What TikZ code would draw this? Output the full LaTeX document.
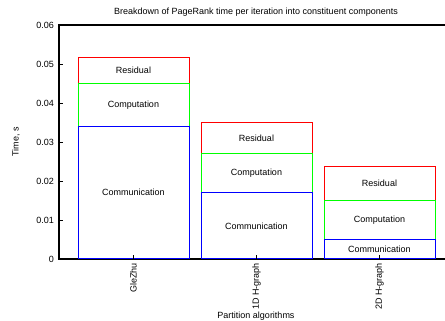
\documentclass[tikz,border=0pt]{standalone}
\usepackage{fontspec}
\setmainfont{Liberation Sans}

\definecolor{commcol}{RGB}{0,0,255}
\definecolor{compcol}{RGB}{0,255,0}
\definecolor{rescol}{RGB}{255,0,0}

\tikzset{
  plottext/.style={font=\fontsize{9}{10}\selectfont, inner sep=0pt},
  segbox/.style={line width=1pt},
}

\begin{document}
\begin{tikzpicture}[x=1pt,y=1pt]
    \useasboundingbox (0,0) rectangle (445,321);

    % title and axis names
    \node[plottext] (title) at (256,309) {Breakdown of PageRank time per iteration into constituent components};
    \node[plottext, rotate=90] (ylabel) at (16,179) {Time, s};
    \node[plottext] (xlabel) at (256,5) {Partition algorithms};

    \begin{scope}[shift={(59,62)}, y=3900pt]
        % draw the axes
        \draw[line width=1.2pt] (386,0.06) -- (0,0.06) -- (0,0) -- (386,0);

        % y ticks
        \foreach \v/\t in {0/0, 0.01/0.01, 0.02/0.02, 0.03/0.03, 0.04/0.04, 0.05/0.05, 0.06/0.06}{
            \draw[line width=0.8pt] (0,\v) -- (4,\v);
            \node[plottext, anchor=east] (ytick\t) at (-5,\v) {\t};
        }

        % the bars: red first, then green, then blue on top
        \foreach \i/\l/\cm/\cp/\rs/\name in {1/19/0.034/0.045/0.0517/GleZhu,
                                             2/142/0.017/0.027/0.035/1D H-graph,
                                             3/265/0.0049/0.015/0.0238/2D H-graph}{
            \draw[segbox, rescol] (\l,\cp) rectangle (\l+111,\rs);
            \draw[segbox, compcol] (\l,\cm) rectangle (\l+111,\cp);
            \draw[segbox, commcol] (\l,0) rectangle (\l+111,\cm);

            % text in the middle of each part
            \node[plottext] (res\i) at (\l+55.5,{(\cp+\rs)/2}) {Residual};
            \node[plottext] (comp\i) at (\l+55.5,{(\cm+\cp)/2}) {Computation};
            \node[plottext] (comm\i) at (\l+55.5,{\cm/2}) {Communication};

            % tick and name under the bar
            \draw[line width=0.8pt] (\l+55.5,0) -- (\l+55.5,0.001);
            \node[plottext, rotate=90, anchor=east] (alg\i) at (\l+55.5,-0.001) {\name};
        }
    \end{scope}

\end{tikzpicture}
\end{document}
